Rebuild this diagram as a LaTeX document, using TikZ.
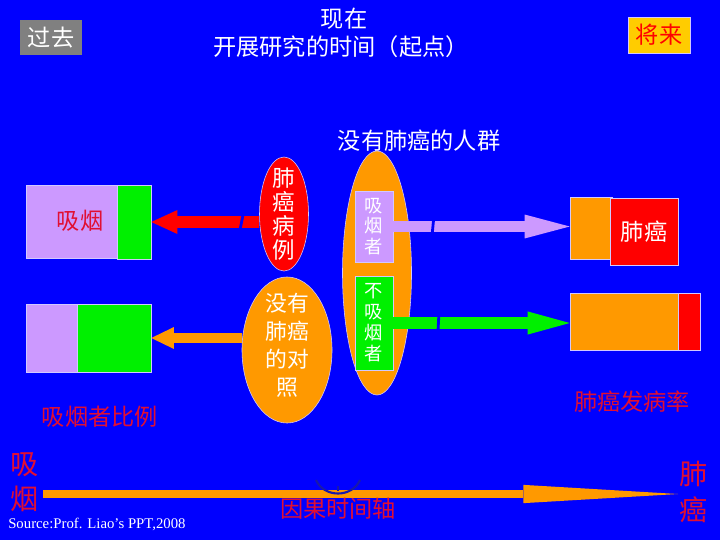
\documentclass[tikz,border=0pt]{standalone}
\usepackage{fontspec}
\setmainfont{Noto Sans CJK SC}
\newfontfamily\srcfont{Liberation Serif}
\usetikzlibrary{arrows.meta,shapes.geometric,fit}
\definecolor{bgblue}{RGB}{0,0,255}
\definecolor{lilac}{RGB}{204,153,255}
\definecolor{grn}{RGB}{0,240,0}
\definecolor{orng}{RGB}{255,153,0}
\definecolor{gry}{RGB}{128,128,128}
\definecolor{gold}{RGB}{255,204,0}
\definecolor{crim}{RGB}{225,15,50}
\definecolor{edge}{RGB}{210,200,255}
\definecolor{arcblue}{RGB}{25,25,170}
\begin{document}
\begin{tikzpicture}[x=0.025cm, y=-0.025cm,
    box/.style={inner sep=0pt, draw=edge, line width=0.4pt},
    oval/.style={ellipse, inner sep=0pt, draw=edge, line width=0.4pt},
    txt/.style={inner sep=0pt, font=\fontsize{16.5}{17}\selectfont},
    vtxt/.style={inner sep=0pt, align=center, text=white},
    gapcut/.style={bgblue, line width=2pt}]
    % Background and frame
    \fill[bgblue] (0,0) rectangle (720,540);
    \useasboundingbox (0,0) rectangle (720,540);

    % Header
    \node[txt, fill=gry, text=white, minimum width=1.55cm, minimum height=0.875cm] (past) at (51,37.5) {过去};
    \node[txt, fill=gold, text=red, draw=edge, line width=0.4pt, minimum width=1.55cm, minimum height=0.9cm] (future) at (659,35) {将来};
    \node[txt, text=white] (now) at (344,19) {现在};
    \node[txt, text=white] (start) at (341,47) {开展研究的时间（起点）};
    \node[txt, text=white] (nocancer) at (419,141) {没有肺癌的人群};

    % Left boxes (proportion of smokers)
    \node[box, fit={(26,185) (118,258)}, fill=lilac] (lLi1) {};
    \node[txt, text=crim] (lLi1T) at (80,221) {吸烟};
    \node[box, fit={(117,185) (151,259)}, fill=grn] (lGr1) {};
    \node[box, fit={(26,304) (77,372)}, fill=lilac] (lLi2) {};
    \node[box, fit={(77,304) (151,372)}, fill=grn] (lGr2) {};
    \node[txt, text=crim] (ratio) at (100,417) {吸烟者比例};

    % Cases and controls
    \node[oval, fill=red, minimum width=1.225cm, minimum height=2.85cm] (lcase) at (284,214) {};
    \node[vtxt, font=\fontsize{16}{17}\selectfont] (lcaseT) at (lcase) {肺\\癌\\病\\例};
    \node[oval, fill=orng, minimum width=2.25cm, minimum height=3.65cm] (ctrl) at (287,350) {};
    \node[vtxt, font=\fontsize{15.5}{20}\selectfont] (ctrlT) at (287,345) {没有\\肺癌\\的对\\照};

    % Cohort without lung cancer
    \node[oval, fill=orng, minimum width=1.725cm, minimum height=6.1cm] (cohort) at (377,273) {};
    \node[box, fit={(355,191) (393,262)}, fill=lilac] (smk) {};
    \node[vtxt, font=\fontsize{13}{14.5}\selectfont] (smkT) at (smk) {吸\\烟\\者};
    \node[box, fit={(355,276) (393,370)}, fill=grn] (nsm) {};
    \node[vtxt, font=\fontsize{13}{15}\selectfont] (nsmT) at (nsm) {不\\吸\\烟\\者};

    % Right boxes (incidence)
    \node[box, fit={(570,197) (612,259)}, fill=orng] (rOr1) {};
    \node[box, fit={(610,198) (678,265)}, fill=red] (rRd1) {};
    \node[txt, text=white] (rRd1T) at (rRd1) {肺癌};
    \node[box, fit={(570,293) (678,350)}, fill=orng] (rOr2) {};
    \node[box, fit={(678,293) (700,350)}, fill=red] (rRd2) {};
    \node[txt, text=crim] (incid) at (632,402) {肺癌发病率};

    % Block arrows
    \draw[red, line width=8.5pt, -{Triangle[length=18.5pt, width=17pt, line width=0pt]}] (lcase.west |- lGr1.east) -- (lGr1.east);
    \draw[orng, line width=7pt, -{Triangle[length=16pt, width=15.5pt, line width=0pt]}] (ctrl.west |- lGr2.east) -- (lGr2.east);
    \draw[lilac, line width=8.5pt, -{Triangle[length=32pt, width=17pt, line width=0pt]}] (smk.east) -- (smk.east -| rOr1.west);
    \draw[grn, line width=8pt, -{Triangle[length=30pt, width=16.5pt, line width=0pt]}] (nsm.east) -- (nsm.east -| rOr2.west);
    % breaks in the shafts
    \draw[gapcut] (244,210) -- (240,230);
    \draw[gapcut] (434,215) -- (432,236);
    \draw[gapcut] (439,312) -- (438,331);

    % Causal time axis
    \node[vtxt, text=crim, font=\fontsize{20}{25}\selectfont] (smkB) at (25,482) {吸\\烟};
    \node[vtxt, text=crim, font=\fontsize{20}{26}\selectfont] (lcB) at (694,492) {肺\\癌};
    \coordinate (axL) at (43,494);
    \coordinate (axR) at (678,494);
    \draw[orng, line width=5.7pt, -{Triangle[length=110pt, width=13pt, line width=0pt]}] (axL) -- (axR);
    \draw[arcblue, line width=1.5pt] (316,480) .. controls (324,498) and (352,498) .. (360,480);
    \draw[arcblue, line width=1pt] (338,486) -- (338,491);
    \node[txt, text=crim] (axis) at (338,509) {因果时间轴};

    % Source
    \node[inner sep=0pt, anchor=west, text=white, font=\srcfont\fontsize{10.5}{12}\selectfont] (src) at (8,524) {Source:Prof. Liao’s PPT,2008};
\end{tikzpicture}
\end{document}
